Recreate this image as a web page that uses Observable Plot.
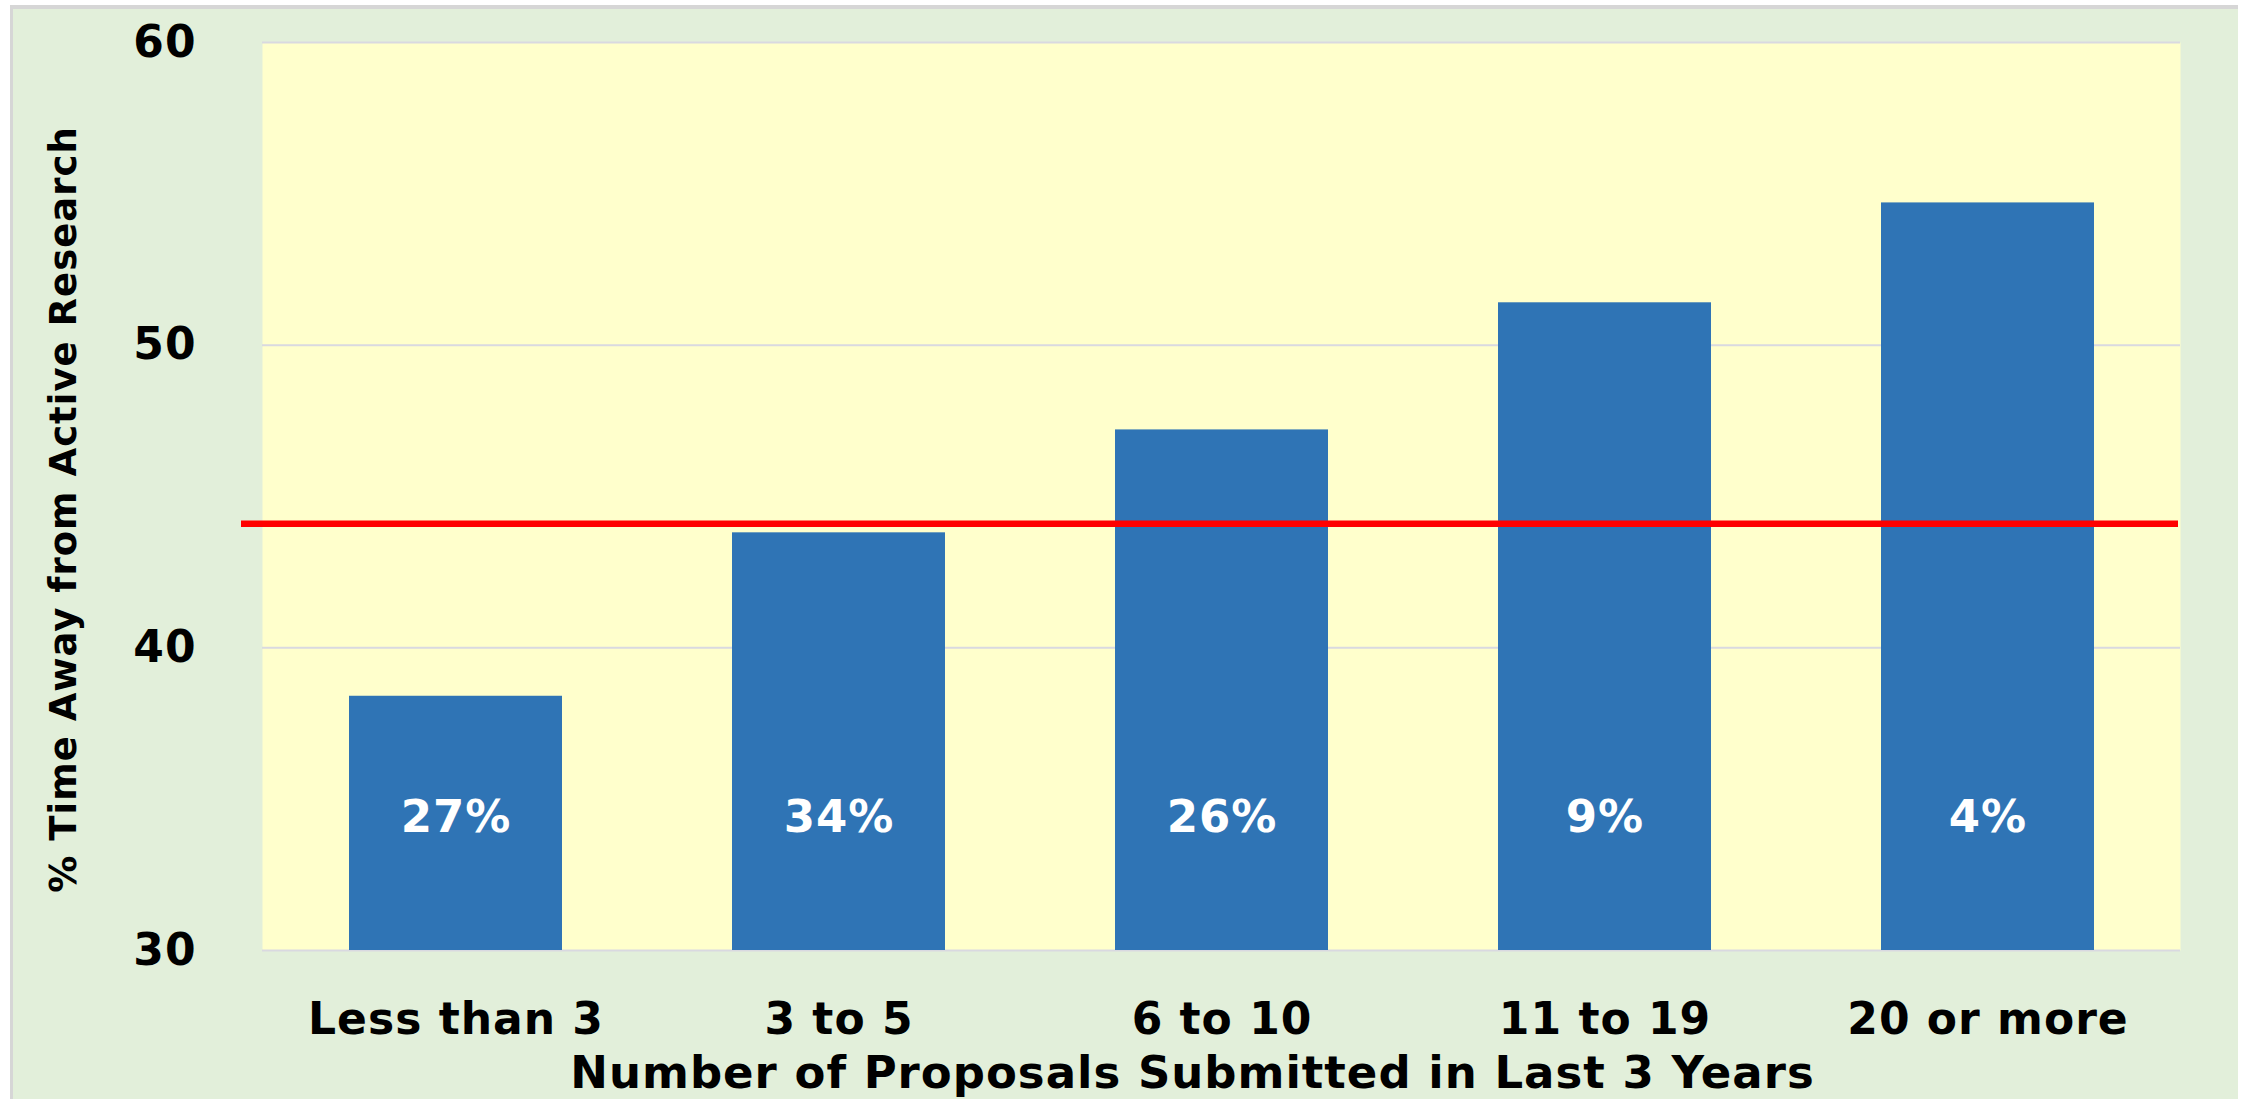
<!DOCTYPE html>
<html>
<head>
<meta charset="utf-8">
<script src="https://cdn.jsdelivr.net/npm/d3@7"></script>
<script src="https://cdn.jsdelivr.net/npm/@observablehq/plot@0.6"></script>
<style>
  html, body { margin: 0; padding: 0; background: #ffffff; }
  #bg { position: absolute; left: 10px; top: 5px; width: 2228px; height: 1094px;
        background: #E2EFDA; border-top: 4px solid #d6d6d6; border-left: 3px solid #d6d6d6; box-sizing: border-box; }
  #chart { position: absolute; left: 0; top: 0; }
</style>
</head>
<body>
<div id="bg"></div>
<div id="chart"></div>
<script>
const categories = ["Less than 3", "3 to 5", "6 to 10", "11 to 19", "20 or more"];
const values = [38.4, 43.8, 47.2, 51.4, 54.7];
const shares = ["27%", "34%", "26%", "9%", "4%"];
const yTicks = [30, 40, 50, 60];
const averageValue = 44.1;
const yTitle = "% Time Away from Active Research";
const xTitle = "Number of Proposals Submitted in Last 3 Years";

const yMin = 30, yMax = 60;
const data = categories.map((c, i) => ({category: c, value: values[i], share: shares[i]}));

const chart = Plot.plot({
  width: 2244,
  height: 1099,
  marginLeft: 262,
  marginRight: 64,
  marginTop: 42,
  marginBottom: 149,
  style: {background: "transparent", fontFamily: "DejaVu Sans", fontWeight: "bold", color: "#000", letterSpacing: "1px"},
  x: {domain: categories, paddingInner: 0.444, paddingOuter: 0.222, label: null},
  y: {domain: [yMin, yMax], ticks: yTicks, label: null},
  marks: [
    Plot.frame({fill: "#FFFFCC", stroke: null}),
    Plot.gridY(yTicks, {stroke: "#d9d9e0", strokeOpacity: 1, strokeWidth: 2}),
    Plot.barY(data, {x: "category", y1: yMin, y2: "value", fill: "#2F74B5"}),
    Plot.ruleY([averageValue], {stroke: "#FF0000", strokeWidth: 6.5, insetLeft: -21, insetRight: 2}),
    Plot.text(data, {x: "category", text: "share", frameAnchor: "bottom", lineAnchor: "middle", dy: -133, fill: "white", fontSize: 45}),
    Plot.axisY({ticks: yTicks, tickSize: 0, tickPadding: 66, fontSize: 44, label: null}),
    Plot.axisX({tickSize: 0, tickPadding: 52, fontSize: 44, label: null}),
    Plot.text([yTitle], {text: d => d, frameAnchor: "left", textAnchor: "middle", lineAnchor: "middle", rotate: -90, dx: -198, dy: 13, fontSize: 37}),
    Plot.text([xTitle], {text: d => d, frameAnchor: "bottom", textAnchor: "middle", lineAnchor: "middle", dx: -29, dy: 123, fontSize: 45})
  ]
});
document.getElementById("chart").appendChild(chart);
</script>
</body>
</html>
